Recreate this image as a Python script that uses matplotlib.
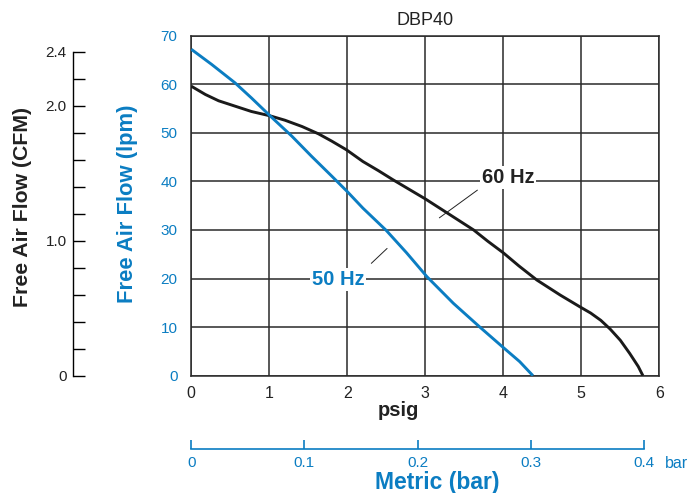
import matplotlib
matplotlib.use('Agg')
import matplotlib.pyplot as plt
import numpy as np

plt.rcParams['font.family'] = ['Liberation Sans', 'DejaVu Sans']

BLUE = '#0b7dc2'
W, H = 688, 493

# 60 Hz curve (psig, lpm)
psi_60 = [0, 0.18, 0.35, 0.56, 0.77, 1.01, 1.2, 1.42, 1.63, 1.8, 1.99, 2.2, 2.4, 2.59,
          2.8, 3.0, 3.32, 3.62, 3.8, 4.0, 4.2, 4.43, 4.73, 4.98, 5.12, 5.25, 5.37, 5.5,
          5.62, 5.73, 5.79]
lpm_60 = [59.6, 57.9, 56.6, 55.5, 54.4, 53.5, 52.6, 51.3, 49.8, 48.3, 46.5, 44.1, 42.2,
          40.3, 38.3, 36.4, 33.1, 30.0, 27.7, 25.3, 22.6, 19.7, 16.6, 14.2, 12.9, 11.4,
          9.6, 7.3, 4.6, 1.9, 0]

# 50 Hz curve (psig, lpm)
psi_50 = [0, 0.26, 0.56, 0.77, 1.01, 1.29, 1.54, 1.8, 2.0, 2.2, 2.5, 2.76, 3.02, 3.36,
          3.7, 4.0, 4.21, 4.38]
lpm_50 = [67.2, 64.1, 60.3, 57.2, 53.5, 49.3, 45.2, 41.1, 37.9, 34.5, 29.9, 25.3, 20.4,
          14.9, 10.0, 5.8, 2.9, 0]

x_ticks = [0, 1, 2, 3, 4, 5, 6]
y_ticks = [0, 10, 20, 30, 40, 50, 60, 70]
cfm_ticks = [0, 0.2, 0.4, 0.6, 0.8, 1.0, 1.2, 1.4, 1.6, 1.8, 2.0, 2.2, 2.4]
cfm_labels = ['0', '', '', '', '', '1.0', '', '', '', '', '2.0', '', '2.4']
bar_ticks = [0, 0.1, 0.2, 0.3, 0.4]
bar_labels = ['0', '0.1', '0.2', '0.3', '0.4']
PSI_PER_BAR = 14.5038


def fx(px):
    return px / W


def fy(py):
    return 1 - py / H


fig = plt.figure(figsize=(W / 100, H / 100), dpi=100)

left, right, top, bottom = 191.3, 659.3, 35.7, 375.7
ax = fig.add_axes([fx(left), fy(bottom), (right - left) / W, (bottom - top) / H])
ax.plot(psi_60, lpm_60, color='#1a1a1a', lw=2.1, solid_capstyle='butt',
        solid_joinstyle='round', zorder=3)
ax.plot(psi_50, lpm_50, color=BLUE, lw=2.1, solid_capstyle='butt',
        solid_joinstyle='round', zorder=3)
ax.set_xlim(0, 6)
ax.set_ylim(0, 70)
ax.set_xticks(x_ticks)
ax.set_yticks(y_ticks)
ax.grid(True, color='#2a2a2a', lw=1.1)
ax.set_axisbelow(True)
ax.tick_params(axis='both', length=0)
ax.tick_params(axis='x', pad=7.5, labelsize=11.5, labelcolor='#222222')
ax.tick_params(axis='y', pad=10.0, labelsize=11, labelcolor=BLUE)
for s in ax.spines.values():
    s.set_color('#2a2a2a')
    s.set_linewidth(1.1)
ax.set_title('DBP40', fontsize=13, color='#222222', pad=8)

ax.annotate('60 Hz', xy=(3.18, 32.5), xytext=(4.06, 40.8), fontsize=14.5,
            fontweight='bold', color='#222222', ha='center', va='center',
            bbox=dict(boxstyle='square,pad=0.1', fc='white', ec='none'),
            arrowprops=dict(arrowstyle='-', color='#222222', lw=0.7,
                            shrinkA=2, shrinkB=0, relpos=(0.0, 0.0)))
ax.annotate('50 Hz', xy=(2.51, 26.2), xytext=(1.88, 19.8), fontsize=14.5,
            fontweight='bold', color=BLUE, ha='center', va='center',
            bbox=dict(boxstyle='square,pad=0.1', fc='white', ec='none'),
            arrowprops=dict(arrowstyle='-', color='#222222', lw=0.7,
                            shrinkA=5, shrinkB=0, relpos=(1.0, 1.0)))

# CFM axis on the far left
cax = fig.add_axes([fx(73.3), fy(bottom), 0.01, (bottom - top) / H])
cax.set_ylim(0, (bottom - top) / 135.0)
cax.set_yticks(cfm_ticks)
cax.set_yticklabels(cfm_labels)
cax.set_xticks([])
cax.patch.set_visible(False)
for k in ['top', 'right', 'bottom']:
    cax.spines[k].set_visible(False)
cax.spines['left'].set_bounds(0, 2.4)
cax.spines['left'].set_linewidth(1.0)
cax.tick_params(axis='y', direction='in', length=8.4, width=1.0, pad=4.8,
                labelsize=11, labelcolor='#222222')

# Metric (bar) axis at the bottom
bax = fig.add_axes([fx(left), fy(449), (right - left) / W, 0.01])
bax.set_xlim(0, 6 / PSI_PER_BAR)
bax.set_xticks(bar_ticks)
bax.set_xticklabels(bar_labels)
bax.set_yticks([])
bax.patch.set_visible(False)
for k in ['top', 'right', 'left']:
    bax.spines[k].set_visible(False)
bax.spines['bottom'].set_bounds(0, 0.4)
bax.spines['bottom'].set_color(BLUE)
bax.spines['bottom'].set_linewidth(1.2)
bax.tick_params(axis='x', direction='in', length=6.5, width=1.2, color=BLUE,
                labelcolor=BLUE, labelsize=11, pad=5)

fig.text(fx(665), fy(464), 'bar', color=BLUE, fontsize=11.5, ha='left', va='center')
fig.text(fx(398), fy(410), 'psig', fontsize=14.5, fontweight='bold', color='#222222',
         ha='center', va='center')
fig.text(fx(437), fy(482), 'Metric (bar)', fontsize=16.5, fontweight='bold', color=BLUE,
         ha='center', va='center')
fig.text(fx(23), fy(207), 'Free Air Flow (CFM)', fontsize=15.3, fontweight='bold',
         color='#222222', rotation=90, ha='center', va='center')
fig.text(fx(128), fy(204), 'Free Air Flow (lpm)', fontsize=15.8, fontweight='bold',
         color=BLUE, rotation=90, ha='center', va='center')

fig.savefig('out.png', dpi=100)
